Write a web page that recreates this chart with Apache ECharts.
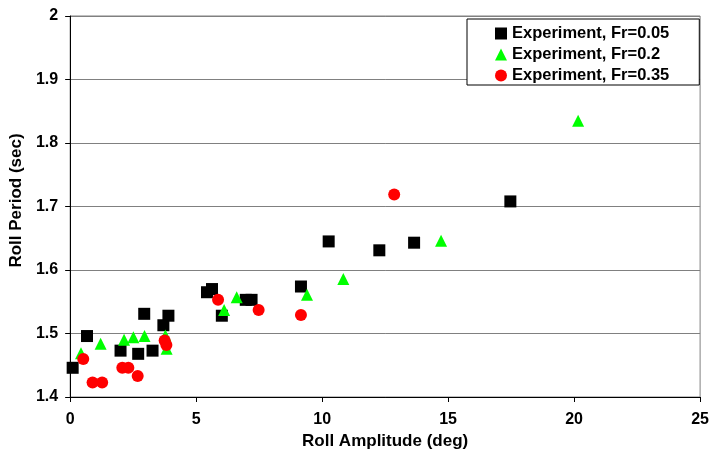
<!DOCTYPE html>
<html>
<head>
<meta charset="utf-8">
<script src="https://cdn.jsdelivr.net/npm/echarts@6/dist/echarts.min.js"></script>
<style>html,body{margin:0;padding:0;background:#fff;}#c{width:712px;height:456px;}</style>
</head>
<body>
<div id="c"></div>
<script>
var xTitle = 'Roll Amplitude (deg)';
var yTitle = 'Roll Period (sec)';
var seriesNames = ['Experiment, Fr=0.05', 'Experiment, Fr=0.2', 'Experiment, Fr=0.35'];

var fr005_x = [0.10, 0.67, 2.00, 2.70, 2.94, 3.27, 3.70, 3.90, 5.43, 5.63, 6.02, 6.97, 7.20, 9.16, 10.26, 12.27, 13.65, 17.47];
var fr005_y = [1.446, 1.496, 1.473, 1.468, 1.531, 1.473, 1.513, 1.528, 1.565, 1.570, 1.528, 1.553, 1.553, 1.574, 1.645, 1.631, 1.643, 1.708];

var fr02_x = [0.43, 1.21, 2.14, 2.51, 2.95, 3.78, 3.83, 6.11, 6.61, 9.40, 10.84, 14.72, 20.16];
var fr02_y = [1.469, 1.484, 1.490, 1.494, 1.496, 1.497, 1.476, 1.537, 1.557, 1.561, 1.586, 1.646, 1.835];

var fr035_x = [0.52, 0.89, 1.27, 2.07, 2.31, 2.68, 3.75, 3.82, 5.87, 7.48, 9.16, 12.86];
var fr035_y = [1.460, 1.423, 1.423, 1.446, 1.446, 1.433, 1.489, 1.482, 1.553, 1.537, 1.529, 1.719];

function pairs(xs, ys) { return xs.map(function (x, i) { return [x, ys[i]]; }); }

var font = '"Liberation Sans", Arial, sans-serif';
var chart = echarts.init(document.getElementById('c'), null, {renderer: 'canvas'});
chart.setOption({
  animation: false,
  backgroundColor: '#fff',
  grid: {left: 70, right: 8, top: 16, bottom: 59, show: true, borderColor: '#808080', borderWidth: 1, backgroundColor: '#fff'},
  legend: {
    orient: 'vertical', left: 467, top: 19,
    backgroundColor: '#fff', borderColor: '#000', borderWidth: 1,
    padding: [6, 30, 1, 28], itemGap: 4, itemWidth: 12, itemHeight: 12,
    textStyle: {fontFamily: font, fontWeight: 'bold', fontSize: 16.5, color: '#000', lineHeight: 16},
    data: seriesNames
  },
  xAxis: {
    type: 'value', min: 0, max: 25, interval: 5,
    name: xTitle, nameLocation: 'middle', nameGap: 30,
    nameTextStyle: {fontFamily: font, fontWeight: 'bold', fontSize: 17, color: '#000'},
    axisLine: {show: true, lineStyle: {color: '#000', width: 1}},
    axisTick: {show: true, inside: false, length: 5, lineStyle: {color: '#000'}},
    axisLabel: {fontFamily: font, fontWeight: 'bold', fontSize: 16, color: '#000', margin: 15},
    splitLine: {show: false}
  },
  yAxis: {
    type: 'value', min: 1.4, max: 2, interval: 0.1,
    name: yTitle, nameLocation: 'middle', nameGap: 41,
    nameTextStyle: {fontFamily: font, fontWeight: 'bold', fontSize: 17, color: '#000', padding: [0, 0, 0, 12]},
    axisLine: {show: true, lineStyle: {color: '#000', width: 1}},
    axisTick: {show: true, inside: false, length: 5, lineStyle: {color: '#000'}},
    axisLabel: {fontFamily: font, fontWeight: 'bold', fontSize: 16, color: '#000', margin: 12},
    splitLine: {show: true, lineStyle: {color: '#808080', width: 1}}
  },
  series: [
    {name: seriesNames[0], type: 'scatter', symbol: 'rect', symbolSize: 12, itemStyle: {color: '#000000', opacity: 1}, data: pairs(fr005_x, fr005_y)},
    {name: seriesNames[1], type: 'scatter', symbol: 'triangle', symbolSize: 12, itemStyle: {color: '#00ff00', opacity: 1}, data: pairs(fr02_x, fr02_y)},
    {name: seriesNames[2], type: 'scatter', symbol: 'circle', symbolSize: 12, itemStyle: {color: '#ff0000', opacity: 1}, data: pairs(fr035_x, fr035_y)}
  ]
});
</script>
</body>
</html>
